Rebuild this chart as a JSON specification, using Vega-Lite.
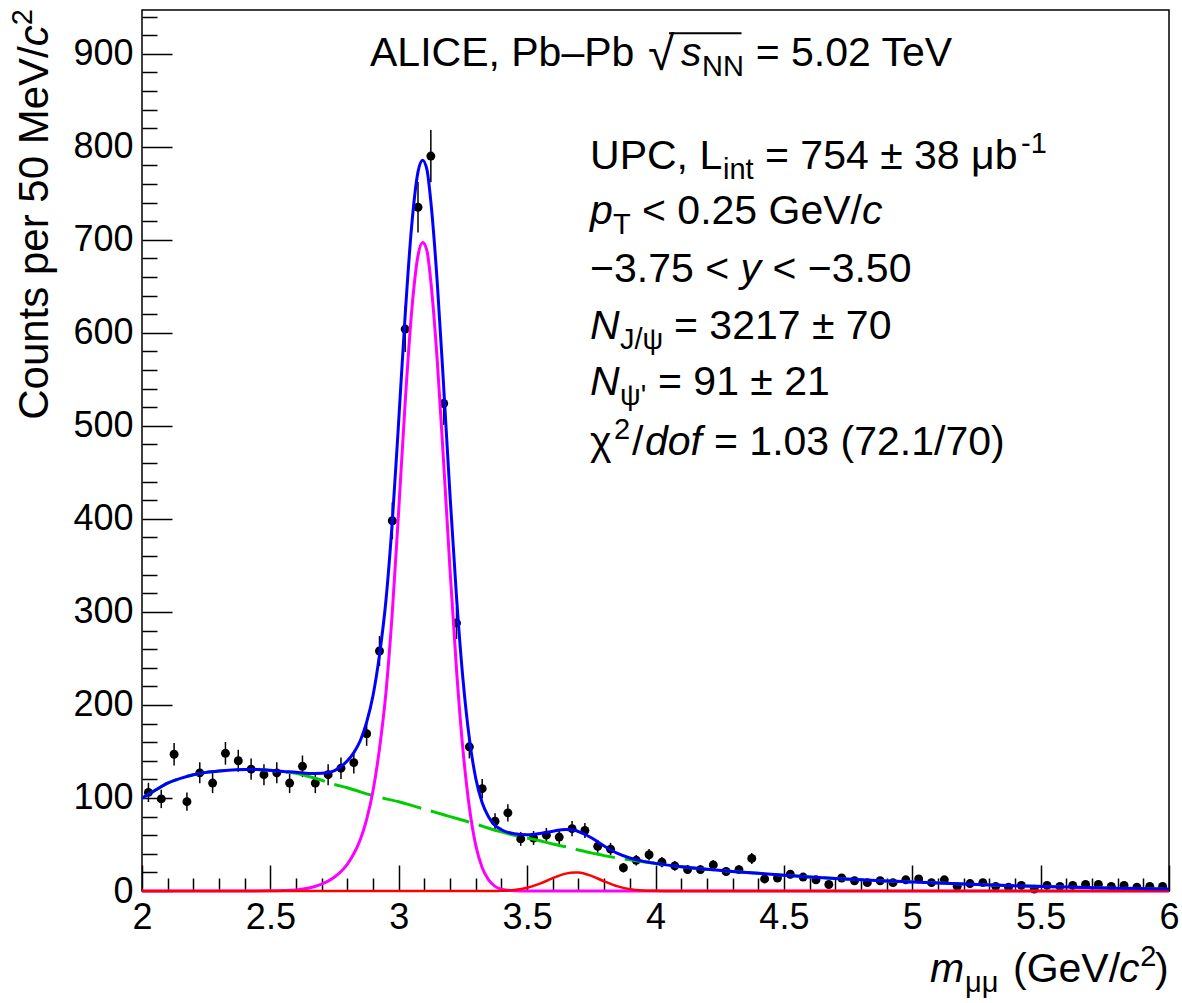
{
  "$schema": "https://vega.github.io/schema/vega-lite/v6.json",
  "width": 1027,
  "height": 881,
  "autosize": {"type": "none"},
  "padding": {"left": 142, "top": 10, "right": 13, "bottom": 112},
  "background": "white",
  "config": {
    "view": {"stroke": "#000", "strokeWidth": 1.5},
    "font": "Liberation Sans",
    "axis": {"labelFont": "Liberation Sans", "labelColor": "#000", "tickColor": "#000", "grid": false, "domain": false, "labelFlush": false, "labelOverlap": false},
    "text": {"font": "Liberation Sans", "color": "#000"}
  },
  "datasets": {
    "pts": [
      {"m":2.025,"n":106,"e":10.3},{"m":2.075,"n":99,"e":9.9},{"m":2.125,"n":147,"e":12.1},{"m":2.175,"n":96,"e":9.8},
      {"m":2.225,"n":127,"e":11.3},{"m":2.275,"n":116,"e":10.8},{"m":2.325,"n":148,"e":12.2},{"m":2.375,"n":140,"e":11.8},
      {"m":2.425,"n":131,"e":11.4},{"m":2.475,"n":125,"e":11.2},{"m":2.525,"n":127,"e":11.3},{"m":2.575,"n":116,"e":10.8},
      {"m":2.625,"n":134,"e":11.6},{"m":2.675,"n":116,"e":10.8},{"m":2.725,"n":125,"e":11.2},{"m":2.775,"n":132,"e":11.5},
      {"m":2.825,"n":138,"e":11.7},{"m":2.875,"n":169,"e":13},{"m":2.925,"n":258,"e":16.1},{"m":2.975,"n":398,"e":19.9},
      {"m":3.025,"n":604,"e":24.6},{"m":3.075,"n":735,"e":27.1},{"m":3.125,"n":790,"e":28.1},{"m":3.175,"n":524,"e":22.9},
      {"m":3.225,"n":288,"e":17},{"m":3.275,"n":155,"e":12.4},{"m":3.325,"n":110,"e":10.5},{"m":3.375,"n":75,"e":8.7},
      {"m":3.425,"n":84,"e":9.2},{"m":3.475,"n":56,"e":7.5},{"m":3.525,"n":57,"e":7.5},{"m":3.575,"n":60,"e":7.7},
      {"m":3.625,"n":58,"e":7.6},{"m":3.675,"n":67,"e":8.2},{"m":3.725,"n":65,"e":8.1},{"m":3.775,"n":48,"e":6.9},
      {"m":3.825,"n":45,"e":6.7},{"m":3.875,"n":25,"e":5},{"m":3.925,"n":33,"e":5.7},{"m":3.975,"n":39,"e":6.2},
      {"m":4.025,"n":31,"e":5.6},{"m":4.075,"n":27,"e":5.2},{"m":4.125,"n":23,"e":4.8},{"m":4.175,"n":23,"e":4.8},
      {"m":4.225,"n":28,"e":5.3},{"m":4.275,"n":21,"e":4.6},{"m":4.325,"n":23,"e":4.8},{"m":4.375,"n":35,"e":5.9},
      {"m":4.425,"n":13,"e":3.6},{"m":4.475,"n":14,"e":3.7},{"m":4.525,"n":18,"e":4.2},{"m":4.575,"n":15,"e":3.9},
      {"m":4.625,"n":12,"e":3.5},{"m":4.675,"n":7,"e":2.6},{"m":4.725,"n":14,"e":3.7},{"m":4.775,"n":11,"e":3.3},
      {"m":4.825,"n":9,"e":3},{"m":4.875,"n":11,"e":3.3},{"m":4.925,"n":9,"e":3},{"m":4.975,"n":12,"e":3.5},
      {"m":5.025,"n":13,"e":3.6},{"m":5.075,"n":9,"e":3},{"m":5.125,"n":12,"e":3.5},{"m":5.175,"n":5,"e":2.2},
      {"m":5.225,"n":8,"e":2.8},{"m":5.275,"n":9,"e":3},{"m":5.325,"n":5,"e":2.2},{"m":5.375,"n":4,"e":2},
      {"m":5.425,"n":6,"e":2.4},{"m":5.475,"n":2,"e":1.4},{"m":5.525,"n":6,"e":2.4},{"m":5.575,"n":5,"e":2.2},
      {"m":5.625,"n":6,"e":2.4},{"m":5.675,"n":7,"e":2.6},{"m":5.725,"n":7,"e":2.6},{"m":5.775,"n":5,"e":2.2},
      {"m":5.825,"n":6,"e":2.4},{"m":5.875,"n":4,"e":2},{"m":5.925,"n":5,"e":2.2},{"m":5.975,"n":5,"e":2.2}
    ],
    "bg": [
      {"m":2.0,"v":99.7},{"m":2.05,"v":108},{"m":2.1,"v":116},{"m":2.15,"v":121},{"m":2.2,"v":125},{"m":2.25,"v":127.5},
      {"m":2.3,"v":129},{"m":2.35,"v":130},{"m":2.4,"v":130.5},{"m":2.45,"v":130.5},{"m":2.5,"v":129.5},{"m":2.55,"v":128},
      {"m":2.6,"v":126.5},{"m":2.65,"v":123},{"m":2.7,"v":119},{"m":2.75,"v":114.5},{"m":2.8,"v":111},{"m":2.85,"v":106.5},
      {"m":2.9,"v":102.5},{"m":2.95,"v":99},{"m":3.0,"v":96},{"m":3.05,"v":92},{"m":3.1,"v":88},{"m":3.15,"v":84},
      {"m":3.2,"v":80},{"m":3.25,"v":76},{"m":3.3,"v":72},{"m":3.35,"v":67.5},{"m":3.4,"v":63.5},{"m":3.45,"v":60},
      {"m":3.5,"v":57},{"m":3.55,"v":54},{"m":3.6,"v":50.5},{"m":3.65,"v":47.5},{"m":3.7,"v":44},{"m":3.75,"v":41},
      {"m":3.8,"v":38},{"m":3.85,"v":35.5},{"m":3.9,"v":33.5},{"m":3.95,"v":31.5},{"m":4.0,"v":29.5},{"m":4.1,"v":26},
      {"m":4.2,"v":23.5},{"m":4.3,"v":21},{"m":4.4,"v":19},{"m":4.5,"v":17},{"m":4.6,"v":15},{"m":4.7,"v":13.5},
      {"m":4.8,"v":12},{"m":4.9,"v":10.8},{"m":5.0,"v":9.8},{"m":5.2,"v":7.5},{"m":5.4,"v":5.6},{"m":5.6,"v":4.2},
      {"m":5.8,"v":3},{"m":6.0,"v":2.2}
    ],
    "jpsi": [
      {"m":2.0,"v":0},{"m":2.4,"v":0},{"m":2.5,"v":0.2},{"m":2.55,"v":0.5},{"m":2.6,"v":1.2},{"m":2.65,"v":3.3},
      {"m":2.7,"v":7.5},{"m":2.725,"v":10.6},{"m":2.75,"v":15},{"m":2.775,"v":21},{"m":2.8,"v":29},{"m":2.825,"v":40},
      {"m":2.85,"v":55},{"m":2.875,"v":77},{"m":2.9,"v":108},{"m":2.925,"v":153},{"m":2.95,"v":213},{"m":2.975,"v":300},
      {"m":3.0,"v":410},{"m":3.025,"v":525},{"m":3.05,"v":622},{"m":3.075,"v":683},{"m":3.093,"v":697},{"m":3.11,"v":688},
      {"m":3.125,"v":655},{"m":3.15,"v":570},{"m":3.175,"v":460},{"m":3.2,"v":344},{"m":3.225,"v":238},{"m":3.25,"v":152},
      {"m":3.275,"v":90},{"m":3.3,"v":49},{"m":3.325,"v":25},{"m":3.35,"v":12},{"m":3.375,"v":5},{"m":3.4,"v":2},
      {"m":3.45,"v":0.3},{"m":3.5,"v":0},{"m":6.0,"v":0}
    ],
    "psi2": [
      {"m":2.0,"v":0},{"m":3.35,"v":0},{"m":3.4,"v":0.4},{"m":3.45,"v":1.2},{"m":3.5,"v":3.5},{"m":3.55,"v":7.9},
      {"m":3.6,"v":13.8},{"m":3.65,"v":18.7},{"m":3.686,"v":20},{"m":3.7,"v":19.9},{"m":3.75,"v":16.3},{"m":3.8,"v":10.4},
      {"m":3.85,"v":5.2},{"m":3.9,"v":2},{"m":3.95,"v":0.6},{"m":4.0,"v":0.2},{"m":4.05,"v":0},{"m":6.0,"v":0}
    ],
    "tot": [
      {"m":2.0,"v":99.7},{"m":2.05,"v":108},{"m":2.1,"v":116},{"m":2.15,"v":121},{"m":2.2,"v":125},{"m":2.25,"v":127.5},
      {"m":2.3,"v":129},{"m":2.35,"v":130},{"m":2.4,"v":130.5},{"m":2.45,"v":130.5},{"m":2.5,"v":129.7},{"m":2.55,"v":128.5},
      {"m":2.6,"v":127.7},{"m":2.65,"v":126.3},{"m":2.7,"v":126.5},{"m":2.725,"v":127.4},{"m":2.75,"v":129.5},{"m":2.775,"v":133.8},
      {"m":2.8,"v":140},{"m":2.825,"v":148.8},{"m":2.85,"v":161.5},{"m":2.875,"v":181.5},{"m":2.9,"v":210.5},{"m":2.925,"v":253.8},
      {"m":2.95,"v":312},{"m":2.975,"v":397.5},{"m":3.0,"v":506},{"m":3.025,"v":619},{"m":3.05,"v":714},{"m":3.075,"v":773},
      {"m":3.093,"v":785.6},{"m":3.11,"v":775.2},{"m":3.125,"v":741},{"m":3.15,"v":654},{"m":3.175,"v":542},{"m":3.2,"v":424},
      {"m":3.225,"v":316},{"m":3.25,"v":228},{"m":3.275,"v":164},{"m":3.3,"v":121},{"m":3.325,"v":94.8},{"m":3.35,"v":79.5},
      {"m":3.375,"v":70.5},{"m":3.4,"v":65.9},{"m":3.45,"v":61.5},{"m":3.5,"v":60.5},{"m":3.55,"v":61.9},{"m":3.6,"v":64.3},
      {"m":3.65,"v":66.2},{"m":3.686,"v":65.2},{"m":3.7,"v":63.9},{"m":3.75,"v":57.3},{"m":3.8,"v":48.4},{"m":3.85,"v":40.7},
      {"m":3.9,"v":35.5},{"m":3.95,"v":32.1},{"m":4.0,"v":29.7},{"m":4.1,"v":26},{"m":4.2,"v":23.5},{"m":4.3,"v":21},
      {"m":4.4,"v":19},{"m":4.5,"v":17},{"m":4.6,"v":15},{"m":4.7,"v":13.5},{"m":4.8,"v":12},{"m":4.9,"v":10.8},
      {"m":5.0,"v":9.8},{"m":5.2,"v":7.5},{"m":5.4,"v":5.6},{"m":5.6,"v":4.2},{"m":5.8,"v":3},{"m":6.0,"v":2.2}
    ],
    "txt": [
      {"x":2.888,"y":887.1,"t":"ALICE, Pb–Pb","k":"n"},
      {"x":3.9708,"y":887.1,"t":"√","k":"big"},
      {"x":4.0993,"y":887.1,"t":"s","k":"i"},
      {"x":4.1815,"y":887.1,"t":"NN","k":"sub"},
      {"x":4.39,"y":887.1,"t":"= 5.02 TeV","k":"n"},
      {"x":3.745,"y":776.3,"t":"UPC, L","k":"n"},
      {"x":4.2629,"y":776.3,"t":"int","k":"sub"},
      {"x":4.4265,"y":776.3,"t":"= 754 ± 38 μb","k":"n"},
      {"x":5.4236,"y":776.3,"t":"-1","k":"sup"},
      {"x":3.745,"y":717.2,"t":"p","k":"i"},
      {"x":3.8345,"y":717.2,"t":"T","k":"sub"},
      {"x":3.9474,"y":717.2,"t":"< 0.25 GeV/","k":"n"},
      {"x":4.8043,"y":717.2,"t":"c","k":"i"},
      {"x":3.745,"y":654.8,"t":"−3.75 <","k":"n"},
      {"x":4.331,"y":654.8,"t":"y","k":"i"},
      {"x":4.4553,"y":654.8,"t":"< −3.50","k":"n"},
      {"x":3.745,"y":593.5,"t":"N","k":"i"},
      {"x":3.8617,"y":593.5,"t":"J/ψ","k":"sub"},
      {"x":4.0721,"y":593.5,"t":"= 3217 ± 70","k":"n"},
      {"x":3.745,"y":533.3,"t":"N","k":"i"},
      {"x":3.8617,"y":533.3,"t":"ψ'","k":"sub"},
      {"x":4.0097,"y":533.3,"t":"= 91 ± 21","k":"n"},
      {"x":3.745,"y":468.8,"t":"χ","k":"n"},
      {"x":3.8384,"y":468.8,"t":"2","k":"sup"},
      {"x":3.9085,"y":468.8,"t":"/","k":"n"},
      {"x":3.9591,"y":468.8,"t":"dof","k":"i"},
      {"x":4.2279,"y":468.8,"t":"= 1.03 (72.1/70)","k":"n"},
      {"x":5.069,"y":-97.8,"t":"m","k":"i"},
      {"x":5.2055,"y":-97.8,"t":"μμ","k":"sub"},
      {"x":5.3923,"y":-97.8,"t":"(GeV/","k":"n"},
      {"x":5.805,"y":-97.8,"t":"c","k":"i"},
      {"x":5.888,"y":-97.8,"t":"2","k":"sup"},
      {"x":5.945,"y":-97.8,"t":")","k":"n"},
      {"x":1.6339,"y":506.5,"t":"Counts per 50 MeV/","k":"rot"},
      {"x":1.6339,"y":908,"t":"c","k":"roti"},
      {"x":1.6339,"y":930.6,"t":"2","k":"rotsup"}
    ],
    "ovl": [{"x":4.0526,"x2":4.335,"y":922}]
  },
  "resolve": {"axis": {"x": "independent", "y": "independent"}},
  "layer": [
    {
      "data": {"name": "pts"},
      "mark": {"type": "errorbar", "rule": {"stroke": "#000", "strokeWidth": 1.5}},
      "encoding": {
        "x": {"field": "m", "type": "quantitative", "scale": {"domain": [2, 6], "nice": false, "zero": false}, "axis": null},
        "y": {"field": "n", "type": "quantitative", "scale": {"domain": [0, 947], "nice": false}, "axis": null},
        "yError": {"field": "e"}
      }
    },
    {
      "data": {"name": "pts"},
      "mark": {"type": "errorbar", "rule": {"stroke": "#000", "strokeWidth": 1.5}},
      "encoding": {
        "x": {"field": "m", "type": "quantitative", "scale": {"domain": [2, 6], "nice": false, "zero": false}, "axis": null},
        "y": {"field": "n", "type": "quantitative", "scale": {"domain": [0, 947], "nice": false}, "axis": null},
        "xError": {"value": 0.025}
      }
    },
    {
      "data": {"name": "pts"},
      "mark": {"type": "circle", "size": 80, "color": "#000", "opacity": 1},
      "encoding": {
        "x": {"field": "m", "type": "quantitative", "scale": {"domain": [2, 6], "nice": false, "zero": false},
              "axis": {"orient": "bottom", "values": [2, 2.5, 3, 3.5, 4, 4.5, 5, 5.5, 6], "ticks": false, "labelFontSize": 36, "labelPadding": 9, "format": "~g", "title": null}},
        "y": {"field": "n", "type": "quantitative", "scale": {"domain": [0, 947], "nice": false},
              "axis": {"orient": "left", "values": [0, 100, 200, 300, 400, 500, 600, 700, 800, 900], "ticks": false, "labelFontSize": 36, "labelPadding": 9, "format": "d", "title": null}}
      }
    },
    {
      "data": {"name": "bg"},
      "mark": {"type": "line", "color": "#00cc00", "strokeWidth": 3, "strokeDash": [40, 10], "interpolate": "monotone"},
      "encoding": {
        "x": {"field": "m", "type": "quantitative", "scale": {"domain": [2, 6], "nice": false, "zero": false},
              "axis": {"orient": "bottom", "values": [2, 2.5, 3, 3.5, 4, 4.5, 5, 5.5, 6], "tickSize": -26, "tickWidth": 1.5, "labels": false, "title": null}},
        "y": {"field": "v", "type": "quantitative", "scale": {"domain": [0, 947], "nice": false},
              "axis": {"orient": "left", "values": [0, 100, 200, 300, 400, 500, 600, 700, 800, 900], "tickSize": -30, "tickWidth": 1.5, "labels": false, "title": null}}
      }
    },
    {
      "data": {"name": "jpsi"},
      "mark": {"type": "line", "color": "#ff00ff", "strokeWidth": 3, "interpolate": "monotone"},
      "encoding": {
        "x": {"field": "m", "type": "quantitative", "scale": {"domain": [2, 6], "nice": false, "zero": false},
              "axis": {"orient": "bottom", "values": [2.1, 2.2, 2.3, 2.4, 2.6, 2.7, 2.8, 2.9, 3.1, 3.2, 3.3, 3.4, 3.6, 3.7, 3.8, 3.9, 4.1, 4.2, 4.3, 4.4, 4.6, 4.7, 4.8, 4.9, 5.1, 5.2, 5.3, 5.4, 5.6, 5.7, 5.8, 5.9], "tickSize": -13, "tickWidth": 1.5, "labels": false, "title": null}},
        "y": {"field": "v", "type": "quantitative", "scale": {"domain": [0, 947], "nice": false},
              "axis": {"orient": "left", "values": [20, 40, 60, 80, 120, 140, 160, 180, 220, 240, 260, 280, 320, 340, 360, 380, 420, 440, 460, 480, 520, 540, 560, 580, 620, 640, 660, 680, 720, 740, 760, 780, 820, 840, 860, 880, 920, 940], "tickSize": -15, "tickWidth": 1.5, "labels": false, "title": null}}
      }
    },
    {
      "data": {"name": "psi2"},
      "mark": {"type": "line", "color": "#ff0000", "strokeWidth": 2.5, "interpolate": "monotone"},
      "encoding": {
        "x": {"field": "m", "type": "quantitative", "scale": {"domain": [2, 6], "nice": false, "zero": false}, "axis": null},
        "y": {"field": "v", "type": "quantitative", "scale": {"domain": [0, 947], "nice": false}, "axis": null}
      }
    },
    {
      "data": {"name": "tot"},
      "mark": {"type": "line", "color": "#0000ff", "strokeWidth": 3, "interpolate": "monotone"},
      "encoding": {
        "x": {"field": "m", "type": "quantitative", "scale": {"domain": [2, 6], "nice": false, "zero": false}, "axis": null},
        "y": {"field": "v", "type": "quantitative", "scale": {"domain": [0, 947], "nice": false}, "axis": null}
      }
    },
    {
      "data": {"name": "ovl"},
      "mark": {"type": "rule", "color": "#000", "strokeWidth": 2},
      "encoding": {
        "x": {"field": "x", "type": "quantitative", "scale": {"domain": [2, 6], "nice": false, "zero": false}, "axis": null},
        "x2": {"field": "x2"},
        "y": {"field": "y", "type": "quantitative", "scale": {"domain": [0, 947], "nice": false}, "axis": null}
      }
    },
    {
      "data": {"name": "txt"},
      "transform": [{"filter": "datum.k == 'n'"}],
      "mark": {"type": "text", "align": "left", "baseline": "alphabetic", "fontSize": 41},
      "encoding": {
        "x": {"field": "x", "type": "quantitative", "scale": {"domain": [2, 6], "nice": false, "zero": false}, "axis": null},
        "y": {"field": "y", "type": "quantitative", "scale": {"domain": [0, 947], "nice": false}, "axis": null},
        "text": {"field": "t"}
      }
    },
    {
      "data": {"name": "txt"},
      "transform": [{"filter": "datum.k == 'big'"}],
      "mark": {"type": "text", "align": "left", "baseline": "alphabetic", "fontSize": 48, "dy": 4},
      "encoding": {
        "x": {"field": "x", "type": "quantitative", "scale": {"domain": [2, 6], "nice": false, "zero": false}, "axis": null},
        "y": {"field": "y", "type": "quantitative", "scale": {"domain": [0, 947], "nice": false}, "axis": null},
        "text": {"field": "t"}
      }
    },
    {
      "data": {"name": "txt"},
      "transform": [{"filter": "datum.k == 'i'"}],
      "mark": {"type": "text", "align": "left", "baseline": "alphabetic", "fontSize": 41, "fontStyle": "italic"},
      "encoding": {
        "x": {"field": "x", "type": "quantitative", "scale": {"domain": [2, 6], "nice": false, "zero": false}, "axis": null},
        "y": {"field": "y", "type": "quantitative", "scale": {"domain": [0, 947], "nice": false}, "axis": null},
        "text": {"field": "t"}
      }
    },
    {
      "data": {"name": "txt"},
      "transform": [{"filter": "datum.k == 'sub'"}],
      "mark": {"type": "text", "align": "left", "baseline": "alphabetic", "fontSize": 29, "dy": 10},
      "encoding": {
        "x": {"field": "x", "type": "quantitative", "scale": {"domain": [2, 6], "nice": false, "zero": false}, "axis": null},
        "y": {"field": "y", "type": "quantitative", "scale": {"domain": [0, 947], "nice": false}, "axis": null},
        "text": {"field": "t"}
      }
    },
    {
      "data": {"name": "txt"},
      "transform": [{"filter": "datum.k == 'sup'"}],
      "mark": {"type": "text", "align": "left", "baseline": "alphabetic", "fontSize": 29, "dy": -16},
      "encoding": {
        "x": {"field": "x", "type": "quantitative", "scale": {"domain": [2, 6], "nice": false, "zero": false}, "axis": null},
        "y": {"field": "y", "type": "quantitative", "scale": {"domain": [0, 947], "nice": false}, "axis": null},
        "text": {"field": "t"}
      }
    },
    {
      "data": {"name": "txt"},
      "transform": [{"filter": "datum.k == 'rot'"}],
      "mark": {"type": "text", "align": "left", "baseline": "alphabetic", "fontSize": 42, "angle": 270},
      "encoding": {
        "x": {"field": "x", "type": "quantitative", "scale": {"domain": [2, 6], "nice": false, "zero": false}, "axis": null},
        "y": {"field": "y", "type": "quantitative", "scale": {"domain": [0, 947], "nice": false}, "axis": null},
        "text": {"field": "t"}
      }
    },
    {
      "data": {"name": "txt"},
      "transform": [{"filter": "datum.k == 'roti'"}],
      "mark": {"type": "text", "align": "left", "baseline": "alphabetic", "fontSize": 42, "angle": 270, "fontStyle": "italic"},
      "encoding": {
        "x": {"field": "x", "type": "quantitative", "scale": {"domain": [2, 6], "nice": false, "zero": false}, "axis": null},
        "y": {"field": "y", "type": "quantitative", "scale": {"domain": [0, 947], "nice": false}, "axis": null},
        "text": {"field": "t"}
      }
    },
    {
      "data": {"name": "txt"},
      "transform": [{"filter": "datum.k == 'rotsup'"}],
      "mark": {"type": "text", "align": "left", "baseline": "alphabetic", "fontSize": 29, "angle": 270, "dy": -16},
      "encoding": {
        "x": {"field": "x", "type": "quantitative", "scale": {"domain": [2, 6], "nice": false, "zero": false}, "axis": null},
        "y": {"field": "y", "type": "quantitative", "scale": {"domain": [0, 947], "nice": false}, "axis": null},
        "text": {"field": "t"}
      }
    }
  ]
}
